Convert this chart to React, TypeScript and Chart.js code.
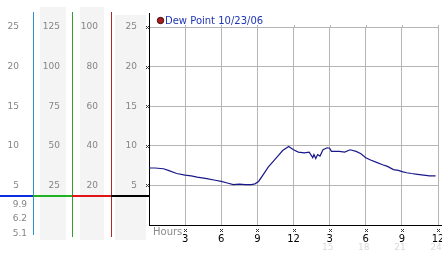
import React, { useEffect, useRef } from 'react';
import { Chart, registerables } from 'chart.js';

Chart.register(...registerables);

// ---- data ----
const hours = [0, 0.5, 1.2, 1.6, 2.3, 3, 3.5, 4, 4.8, 5.5, 6, 6.5, 7, 7.5, 8, 8.5, 8.8, 9.1, 9.5, 9.9, 10.3, 10.7, 11.1, 11.6, 12.0, 12.4, 12.9, 13.3, 13.6, 13.7, 13.85, 14.0, 14.2, 14.45, 14.8, 15.0, 15.15, 15.8, 16.25, 16.7, 17.2, 17.6, 18.0, 18.4, 18.9, 19.4, 19.8, 20.3, 20.7, 21.1, 21.4, 21.8, 22.3, 22.8, 23.3, 23.8];
const dewPoint = [7.2, 7.2, 7.1, 6.9, 6.5, 6.3, 6.2, 6.05, 5.85, 5.65, 5.5, 5.3, 5.1, 5.15, 5.1, 5.1, 5.2, 5.5, 6.4, 7.3, 8.0, 8.7, 9.4, 9.9, 9.5, 9.2, 9.1, 9.2, 8.5, 8.9, 8.4, 8.9, 8.7, 9.5, 9.75, 9.7, 9.3, 9.3, 9.2, 9.5, 9.3, 9.0, 8.5, 8.2, 7.9, 7.6, 7.4, 7.0, 6.9, 6.7, 6.6, 6.5, 6.4, 6.3, 6.2, 6.2];
const legendLabel = 'Dew Point 10/23/06';
const hoursLabel = 'Hours';
const summaryLabels = ['9.9', '6.2', '5.1'];
const markerValue = 3.6;
// faint 24-hour labels under the afternoon ticks
const faintHours = [15, 18, 21, 24];
// panel scales: [max, step]
const panelA = [25, 5];
const panelB = [125, 25];
const panelC = [100, 20];
const mainY = [25, 5];
const xRange = [0, 24, 3];

const FONT = 'DejaVu Sans';
const GRAY = '#858585';

function pixelMark(ctx: CanvasRenderingContext2D, x: number, y: number) {
  ctx.fillStyle = '#3a3a3a';
  const pts = [[0, 0], [2, 0], [1, 1], [0, 2], [2, 2]];
  for (const [dx, dy] of pts) ctx.fillRect(x + dx, y + dy, 1, 1);
}

const panelPlugin = {
  id: 'panelDecor',
  beforeDraw(chart: any) {
    const { ctx, scales: s } = chart;
    ctx.save();
    ctx.fillStyle = '#f4f4f4';
    ctx.fillRect(s.yB.left + 7, 7, s.yB.right - s.yB.left - 13, 233);
    ctx.fillRect(s.yC.left + 8, 7, s.yC.right - s.yC.left - 15, 233);
    ctx.fillRect(s.y.left + 4, 15, s.y.right - s.y.left - 7, 225);
    ctx.restore();
  },
  afterDraw(chart: any) {
    const { ctx, scales: s, chartArea } = chart;
    ctx.save();
    // vertical coloured separators
    const vlines: [number, string, number][] = [
      [s.yA.right, '#2f93cf', 235],
      [s.yB.right, '#2f9f2f', 237],
      [s.yC.right, '#b52525', 237],
    ];
    ctx.lineWidth = 1;
    for (const [x, c, bottom] of vlines) {
      ctx.strokeStyle = c;
      ctx.beginPath();
      ctx.moveTo(Math.round(x) + 0.5, 12);
      ctx.lineTo(Math.round(x) + 0.5, bottom);
      ctx.stroke();
    }
    // main axis extension
    ctx.strokeStyle = '#000';
    ctx.beginPath();
    ctx.moveTo(Math.round(chartArea.left) + 0.5, 13);
    ctx.lineTo(Math.round(chartArea.left) + 0.5, chartArea.top);
    ctx.stroke();
    ctx.beginPath();
    ctx.moveTo(chartArea.right, Math.round(chartArea.bottom) + 0.5);
    ctx.lineTo(442, Math.round(chartArea.bottom) + 0.5);
    ctx.stroke();
    // vertical grid stubs above the top grid line
    ctx.strokeStyle = '#b5b5b5';
    for (let v = xRange[2]; v <= xRange[1]; v += xRange[2]) {
      const px = Math.round(s.x.getPixelForValue(v)) + 0.5;
      ctx.beginPath();
      ctx.moveTo(px, chartArea.top - 2);
      ctx.lineTo(px, chartArea.top);
      ctx.stroke();
    }
    // horizontal coloured marker segments
    const my = Math.round(s.y.getPixelForValue(markerValue)) - 1;
    const segs: [number, number, string][] = [
      [0, s.yA.right, '#0b2fe0'],
      [s.yA.right, s.yB.right, '#1fb41f'],
      [s.yB.right, s.yC.right, '#e01414'],
      [s.yC.right, chartArea.left, '#000'],
    ];
    for (const [a, b, c] of segs) {
      ctx.fillStyle = c;
      ctx.fillRect(Math.round(a), my, Math.round(b) - Math.round(a), 2);
    }
    // summary values
    ctx.font = `9px "${FONT}"`;
    ctx.fillStyle = GRAY;
    ctx.textAlign = 'right';
    ctx.textBaseline = 'alphabetic';
    summaryLabels.forEach((t, i) => ctx.fillText(t, 27, 207 + i * 14.3));
    // faint 24h labels
    ctx.fillStyle = '#dadada';
    ctx.textAlign = 'center';
    for (const v of faintHours) {
      ctx.fillText(String(v), s.x.getPixelForValue(v) - 2, 250);
    }
    // tick marks glyphs
    for (let v = mainY[1]; v <= mainY[0]; v += mainY[1]) {
      const py = Math.round(s.y.getPixelForValue(v));
      pixelMark(ctx, Math.round(chartArea.left) - 3, py - 1);
    }
    for (let v = xRange[2]; v <= xRange[1]; v += xRange[2]) {
      const px = Math.round(s.x.getPixelForValue(v));
      pixelMark(ctx, px - 1, 229);
    }
    // Hours label
    ctx.font = `10px "${FONT}"`;
    ctx.fillStyle = '#8a8a8a';
    ctx.textAlign = 'left';
    ctx.fillText(hoursLabel, chartArea.left + 4, 235);
    // legend
    ctx.beginPath();
    ctx.arc(chartArea.left + 11.5, 20.5, 3.2, 0, Math.PI * 2);
    ctx.fillStyle = '#a81c1c';
    ctx.fill();
    ctx.strokeStyle = '#4a0808';
    ctx.lineWidth = 1;
    ctx.stroke();
    ctx.fillStyle = '#1f35b5';
    ctx.fillText(legendLabel, chartArea.left + 16, 24);
    ctx.restore();
  },
};

function panelAxis(max: number, step: number, weight: number, width: number, padding: number) {
  return {
    type: 'linear' as const,
    position: 'left' as const,
    weight,
    min: 0,
    max,
    grid: { display: false, drawTicks: false },
    border: { display: false },
    ticks: {
      stepSize: step,
      padding,
      color: GRAY,
      font: { family: FONT, size: 9 },
      callback: (v: any) => (v === 0 ? '' : String(v)),
    },
    afterFit: (scale: any) => {
      scale.width = width;
      scale.paddingTop = 0;
      scale.paddingBottom = 0;
    },
  };
}

export default function App() {
  const ref = useRef<HTMLCanvasElement>(null);
  useEffect(() => {
    if (!ref.current) return;
    const chart = new Chart(ref.current, {
      type: 'line',
      data: {
        datasets: [
          {
            label: legendLabel,
            data: hours.map((h, i) => ({ x: h, y: dewPoint[i] })),
            borderColor: '#18188a',
            backgroundColor: '#a81c1c',
            borderWidth: 1.2,
            pointRadius: 0,
            tension: 0,
            xAxisID: 'x',
            yAxisID: 'y',
          },
        ],
      },
      options: {
        animation: false,
        responsive: false,
        devicePixelRatio: 1,
        layout: { padding: { top: 27, right: 4, left: 0, bottom: 0 } },
        plugins: { legend: { display: false }, tooltip: { enabled: false } },
        scales: {
          yA: panelAxis(panelA[0], panelA[1], 40, 33, 14),
          yB: panelAxis(panelB[0], panelB[1], 30, 39, 12),
          yC: panelAxis(panelC[0], panelC[1], 20, 39, 13),
          y: {
            type: 'linear',
            position: 'left',
            weight: 10,
            min: 0,
            max: mainY[0],
            grid: { color: '#b5b5b5', drawTicks: false, lineWidth: 1 },
            border: { display: true, color: '#000', width: 1 },
            ticks: {
              stepSize: mainY[1],
              padding: 12,
              color: GRAY,
              font: { family: FONT, size: 9 },
              callback: (v: any) => (v === 0 ? '' : String(v)),
            },
            afterFit: (scale: any) => {
              scale.width = 38;
              scale.paddingTop = 0;
              scale.paddingBottom = 0;
            },
          },
          x: {
            type: 'linear',
            position: 'bottom',
            min: xRange[0],
            max: xRange[1],
            grid: { color: '#b5b5b5', drawTicks: false, lineWidth: 1 },
            border: { display: true, color: '#000', width: 1 },
            ticks: {
              stepSize: xRange[2],
              autoSkip: false,
              maxRotation: 0,
              padding: 8,
              color: '#000',
              font: { family: FONT, size: 10 },
              callback: (v: any) => (v === 0 ? '' : String(v > 12 ? v - 12 : v)),
            },
            afterFit: (scale: any) => {
              scale.height = 28;
              scale.paddingLeft = 0;
              scale.paddingRight = 0;
            },
          },
        },
      } as any,
      plugins: [panelPlugin],
    });
    return () => chart.destroy();
  }, []);
  return (
    <div style={{ position: 'absolute', left: 0, top: 0, width: 442, height: 253, background: '#fff' }}>
      <canvas ref={ref} width={442} height={253} style={{ display: 'block', width: 442, height: 253 }} />
    </div>
  );
}
